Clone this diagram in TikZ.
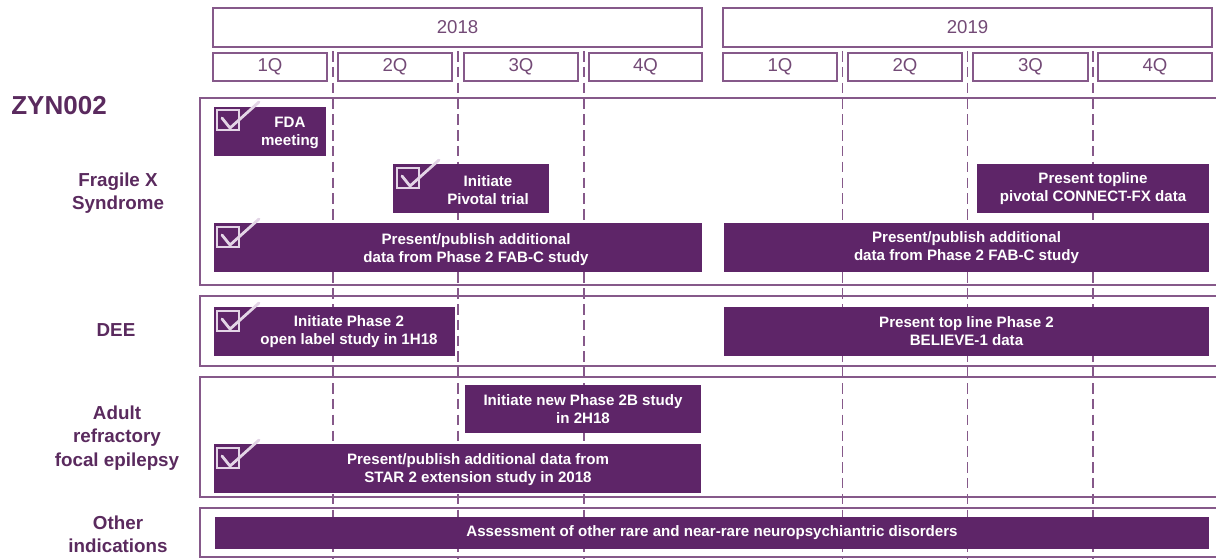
\documentclass[tikz,border=0pt]{standalone}
\usepackage{fontspec}
\setmainfont{Liberation Sans}
\usetikzlibrary{fit}

\definecolor{zpurple}{HTML}{5E2568}
\definecolor{zline}{HTML}{86598A}
\definecolor{ztext}{HTML}{5A2A5E}
\definecolor{zcheck}{HTML}{E3D5E6}

\tikzset{
    checkbox/.pic={
        \draw[zcheck,line width=1.3pt](0,0)rectangle(22,20);
        \draw[zcheck,line width=1.6pt,line cap=round,line join=round](5,8)--(13,18)--(42,-8);
    }
}

\begin{document}
\begin{tikzpicture}[x=0.02cm,y=-0.02cm,
    yearbox/.style={draw=zline,line width=1.1pt,inner sep=0pt},
    headtext/.style={text=ztext!85,inner sep=0pt,font=\fontsize{10.6}{12}\selectfont},
    rowbox/.style={draw=zline,line width=1.1pt,inner sep=0pt},
    bar/.style={fill=zpurple,inner sep=0pt},
    bartext/.style={text=white,align=center,inner sep=0pt,font=\fontsize{8.6}{10.2}\selectfont\bfseries},
    side/.style={text=ztext,align=center,inner sep=0pt,font=\fontsize{10.7}{13.3}\selectfont\bfseries},
    grid/.style={draw=zline,line width=1pt,dash pattern=on 6pt off 3pt}]
    \useasboundingbox(0,0)rectangle(1216,559);

    % years and quarters
    \node[yearbox,fit={(213,8)(702,47)}](y2018){};
    \node[yearbox,fit={(723,8)(1212,47)}](y2019){};
    \node[headtext](t2018)at(y2018.center){2018};
    \node[headtext](t2019)at(y2019.center){2019};
    \node[yearbox,fit={(213,53)(327,81)}](q1a){};
    \node[yearbox,fit={(338,53)(452,81)}](q2a){};
    \node[yearbox,fit={(464,53)(578,81)}](q3a){};
    \node[yearbox,fit={(589,53)(702,81)}](q4a){};
    \node[yearbox,fit={(723,53)(837,81)}](q1b){};
    \node[yearbox,fit={(848,53)(962,81)}](q2b){};
    \node[yearbox,fit={(973,53)(1088,81)}](q3b){};
    \node[yearbox,fit={(1098,53)(1212,81)}](q4b){};
    \node[headtext](tq1a)at(q1a.center){1Q};
    \node[headtext](tq2a)at(q2a.center){2Q};
    \node[headtext](tq3a)at(q3a.center){3Q};
    \node[headtext](tq4a)at(q4a.center){4Q};
    \node[headtext](tq1b)at(q1b.center){1Q};
    \node[headtext](tq2b)at(q2b.center){2Q};
    \node[headtext](tq3b)at(q3b.center){3Q};
    \node[headtext](tq4b)at(q4b.center){4Q};

    % indication rows
    \node[rowbox,fit={(200,98)(1230,285)}](fxrow){};
    \node[rowbox,fit={(200,296)(1230,366)}](deerow){};
    \node[rowbox,fit={(200,377)(1230,497)}](afrow){};
    \node[rowbox,fit={(200,508)(1230,557)}](otherrow){};

    % quarter separators
    \draw[grid](333,51)--(333,559);
    \draw[grid](458,51)--(458,559);
    \draw[grid](584,51)--(584,559);
    \draw[grid](842.5,51)--(842.5,559);
    \draw[grid](967.5,51)--(967.5,559);
    \draw[grid](1093,51)--(1093,559);

    % labels on the left
    \node[side,anchor=west,font=\fontsize{14.8}{16}\selectfont\bfseries](zyn)at(11,106){ZYN002};
    \node[side](fxlabel)at(118,193){Fragile X\\Syndrome};
    \node[side](deelabel)at(116,330){DEE};
    \node[side](aflabel)at(117,438){Adult\\refractory\\focal epilepsy};
    \node[side](otherlabel)at(118,534){Other\\indications};

    % Fragile X
    \node[bar,fit={(214,107)(326,156)}](fdabar){};
    \node[bartext](fdatext)at(290,132.5){FDA\\meeting};
    \pic at(217,110){checkbox};
    \node[bar,fit={(393,164)(549,213)}](pivbar){};
    \node[bartext](pivtext)at(488,190){Initiate\\Pivotal trial};
    \pic at(397,168){checkbox};
    \node[bar,fit={(977,164)(1209,213)}](topbar){};
    \node[bartext](toptext)at(topbar.center){Present topline\\pivotal CONNECT-FX data};
    \node[bar,fit={(214,223)(702,272)}](fabbar){};
    \node[bartext](fabtext)at(476,249.5){Present/publish additional\\data from Phase 2 FAB-C study};
    \pic at(217,227){checkbox};
    \node[bar,fit={(724,223)(1209,272)}](fabnext){};
    \node[bartext](fabnexttext)at(fabnext.center){Present/publish additional\\data from Phase 2 FAB-C study};

    % DEE
    \node[bar,fit={(214,307)(455,356)}](deebar){};
    \node[bartext](deetext)at(349,332){Initiate Phase 2\\open label study in 1H18};
    \pic at(217,311){checkbox};
    \node[bar,fit={(724,307)(1209,356)}](believe){};
    \node[bartext](believetext)at(believe.center){Present top line Phase 2\\BELIEVE-1 data};

    % adult refractory focal epilepsy
    \node[bar,fit={(465,385)(701,433)}](newbar){};
    \node[bartext](newtext)at(newbar.center){Initiate new Phase 2B study\\in 2H18};
    \node[bar,fit={(214,444)(701,493)}](starbar){};
    \node[bartext](startext)at(478,469.5){Present/publish additional data from\\STAR 2 extension study in 2018};
    \pic at(217,448){checkbox};

    % other indications
    \node[bar,fit={(215,517)(1209,549)}](assess){};
    \node[bartext](assesstext)at(assess.center){Assessment of other rare and near-rare neuropsychiantric disorders};
\end{tikzpicture}
\end{document}
